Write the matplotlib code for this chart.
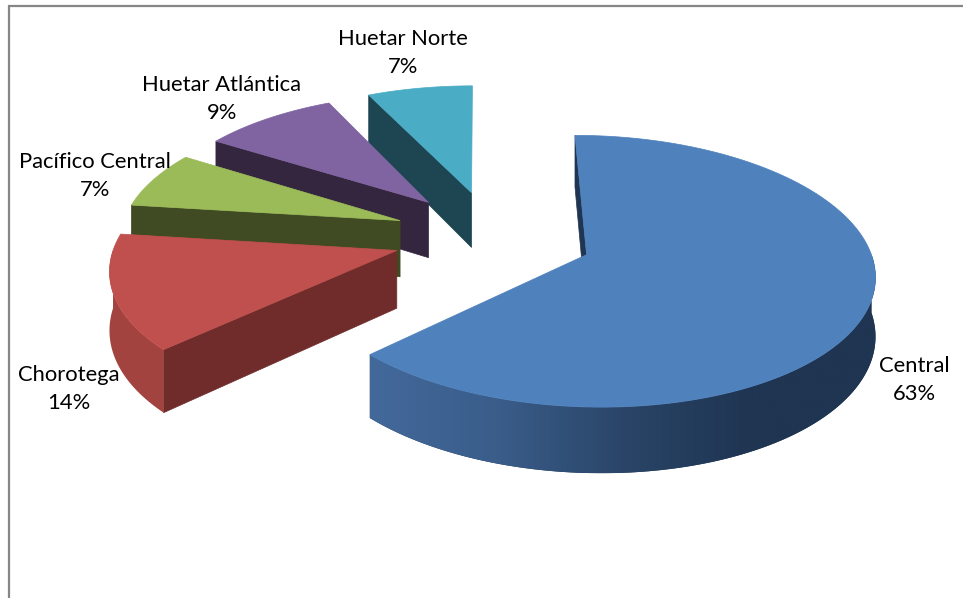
import numpy as np
import matplotlib
matplotlib.use("Agg")
import matplotlib.pyplot as plt
from matplotlib.colors import LinearSegmentedColormap
from matplotlib.patches import Polygon

# clockwise from the top, like the spreadsheet pie
regions = ["Central", "Chorotega", "Pacífico Central", "Huetar Atlántica", "Huetar Norte"]
shares = [63, 14, 7, 9, 7]

top_colors = ["#4F81BD", "#C0504D", "#9BBB59", "#8064A2", "#4BACC6"]
cut_colors = ["#1F3552", "#6F2C2B", "#404B23", "#35263F", "#1E4552"]
rim_colors = ["#1F3552", "#A2433F", "#404B23", "#35263F", "#1E4552"]
blue_rim_stops = ["#43699B", "#3A5D8A", "#2A4568", "#1F3552", "#1F3552"]

label_x = [914, 69, 95, 222, 403]
label_y = [380, 389, 176, 99, 53]

start_angle = 0.0
radius = 280.0
explode = 100.0
tilt = 0.462
persp = 0.12
depth = 57.0
cx, cy = 493.0, 236.0
vanish_x = 480.0


def project(x, y, z=0.0):
    s = 1.0 / (1.0 + persp * y / radius)
    return vanish_x + (x + cx - vanish_x) * s, cy - tilt * y * s + depth * z * s


def rim_points(t0, t1, off, z=0.0):
    t = np.radians(np.linspace(t0, t1, 120))
    return np.column_stack(project(off[0] + radius * np.sin(t), off[1] + radius * np.cos(t), z))


fig = plt.figure(figsize=(9.63, 5.98), dpi=100)
ax = fig.add_axes([0, 0, 1, 1])

edges = start_angle + np.concatenate([[0], np.cumsum(shares)]) * 360.0 / sum(shares)

# back to front, the big slice goes last
for i in [4, 3, 2, 1, 0]:
    t0, t1 = edges[i], edges[i + 1]
    mid = np.radians((t0 + t1) / 2)
    off = (explode * np.sin(mid), explode * np.cos(mid))
    apex = np.array(project(off[0], off[1]))
    apex_low = np.array(project(off[0], off[1], 1.0))
    top = rim_points(t0, t1, off)

    # start edge cut face
    a = top[0]
    b = rim_points(t0, t0, off, 1.0)[0]
    ax.add_patch(Polygon([a, apex, apex_low, b], closed=True, fc=cut_colors[i], ec=cut_colors[i], lw=0.5, zorder=i * -3 + 20))

    # outer wall, only the part turned to the viewer
    r0, r1 = max(t0, 90.0), min(t1, 270.0)
    if r1 > r0:
        upper = rim_points(r0, r1, off)
        lower = rim_points(r0, r1, off, 1.0)
        wall = Polygon(np.vstack([upper, lower[::-1]]), closed=True, fc=rim_colors[i], ec="none", zorder=i * -3 + 20)
        ax.add_patch(wall)
        if i == 0:
            cmap = LinearSegmentedColormap.from_list("bluerim", blue_rim_stops)
            x0, x1 = wall.get_xy()[:, 0].min(), wall.get_xy()[:, 0].max()
            y0, y1 = wall.get_xy()[:, 1].min(), wall.get_xy()[:, 1].max()
            im = ax.imshow(np.linspace(0, 1, 256).reshape(1, -1), cmap=cmap, extent=[x0, x1, y1, y0],
                           aspect="auto", zorder=21)
            im.set_clip_path(wall)

    ax.add_patch(Polygon(np.vstack([[apex], top]), closed=True, fc=top_colors[i], ec=top_colors[i], lw=0.5, zorder=i * -3 + 22))

for name, pct, x, y in zip(regions, shares, label_x, label_y):
    ax.text(x, y, f"{name}\n{pct}%", ha="center", va="center", fontsize=15.8, family="Lato",
            color="black", linespacing=1.52, zorder=40)

ax.plot([9, 9, 963], [598, 6, 6], color="#868686", lw=1.6, solid_joinstyle="miter", zorder=30)

ax.set_xlim(0, 963)
ax.set_ylim(598, 0)
ax.axis("off")
fig.savefig("out.png", dpi=100, facecolor="white")
